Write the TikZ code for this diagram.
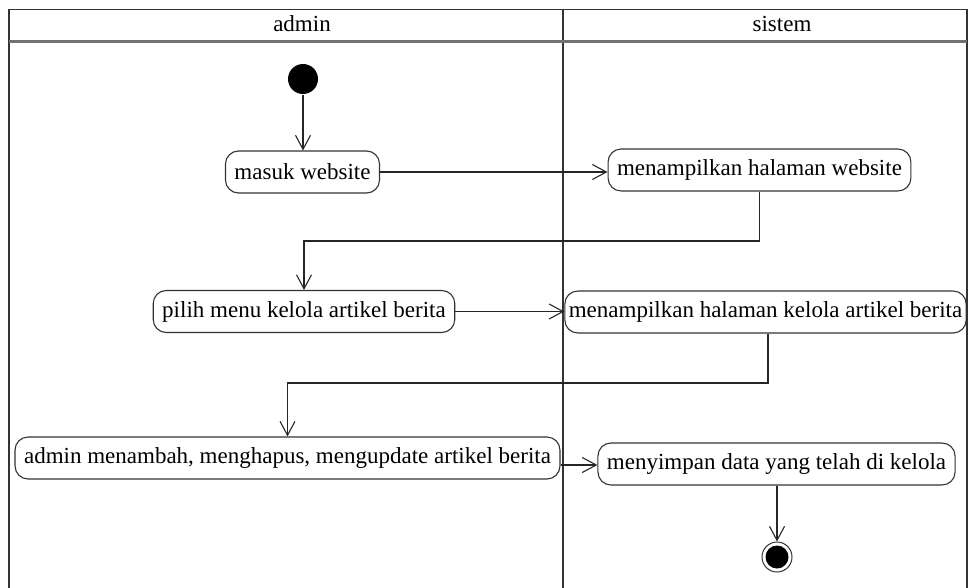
\documentclass[tikz,border=0pt]{standalone}
\usepackage{fontspec}
\setmainfont{Liberation Serif}
\usetikzlibrary{arrows.meta}

\begin{document}
\begin{tikzpicture}[x=1pt, y=-1pt, line width=1.1pt,
    every node/.style={font=\fontsize{23}{27}\selectfont},
    act/.style={draw=black!80, rounded corners=13pt, minimum height=42pt, inner xsep=9pt, inner ysep=0pt},
    start/.style={circle, fill=black, minimum size=30pt, inner sep=0pt},
    stop/.style={circle, draw=black!80, line width=1pt, minimum size=30pt, inner sep=0pt,
        path picture={\fill (path picture bounding box.center) circle (11.5pt);}},
    flow/.style={-{Straight Barb[length=14pt,width=15pt]}, black!85}]
    \useasboundingbox (0,0) rectangle (968,588);
    \draw[black!80] (9,588) -- (9,9.5) -- (967,9.5) -- (967,588);
    \draw[black!80] (563,9.5) -- (563,588);
    \draw[black!55, line width=2.6pt] (9,41.5) -- (967,41.5);
    \node (lane1) at (302,24) {admin};
    \node (lane2) at (782,24) {sistem};
    \node[start] (init) at (303,79) {};
    \node[act] (masuk) at (302.5,172) {masuk website};
    \node[act] (web) at (759.5,170) {menampilkan halaman website};
    \node[act] (pilih) at (304,311.5) {pilih menu kelola artikel berita};
    \node[act, inner xsep=4pt] (kelola) at (765.5,312) {menampilkan halaman kelola artikel berita};
    \node[act] (ubah) at (287.5,458) {admin menambah, menghapus, mengupdate artikel berita};
    \node[act] (simpan) at (776.5,464) {menyimpan data yang telah di kelola};
    \node[stop] (akhir) at (777,557) {};
    \coordinate (turn1) at (0,241);
    \coordinate (turn2) at (0,383);
    \draw[flow] (init) -- (init |- masuk.north);
    \draw[flow] (masuk.east) -- (masuk.east -| web.west);
    \draw[flow] (web.south) |- (turn1 -| pilih.north) -- (pilih.north);
    \draw[flow] (pilih.east) -- (pilih.east -| kelola.west);
    \draw[flow] ([xshift=2.5pt]kelola.south) |- (turn2 -| ubah.north) -- (ubah.north);
    \draw[flow] ([yshift=-7pt]ubah.east) -- ([yshift=-7pt]ubah.east -| simpan.west);
    \draw[flow] (simpan.south -| akhir) -- (akhir.north);
\end{tikzpicture}
\end{document}
